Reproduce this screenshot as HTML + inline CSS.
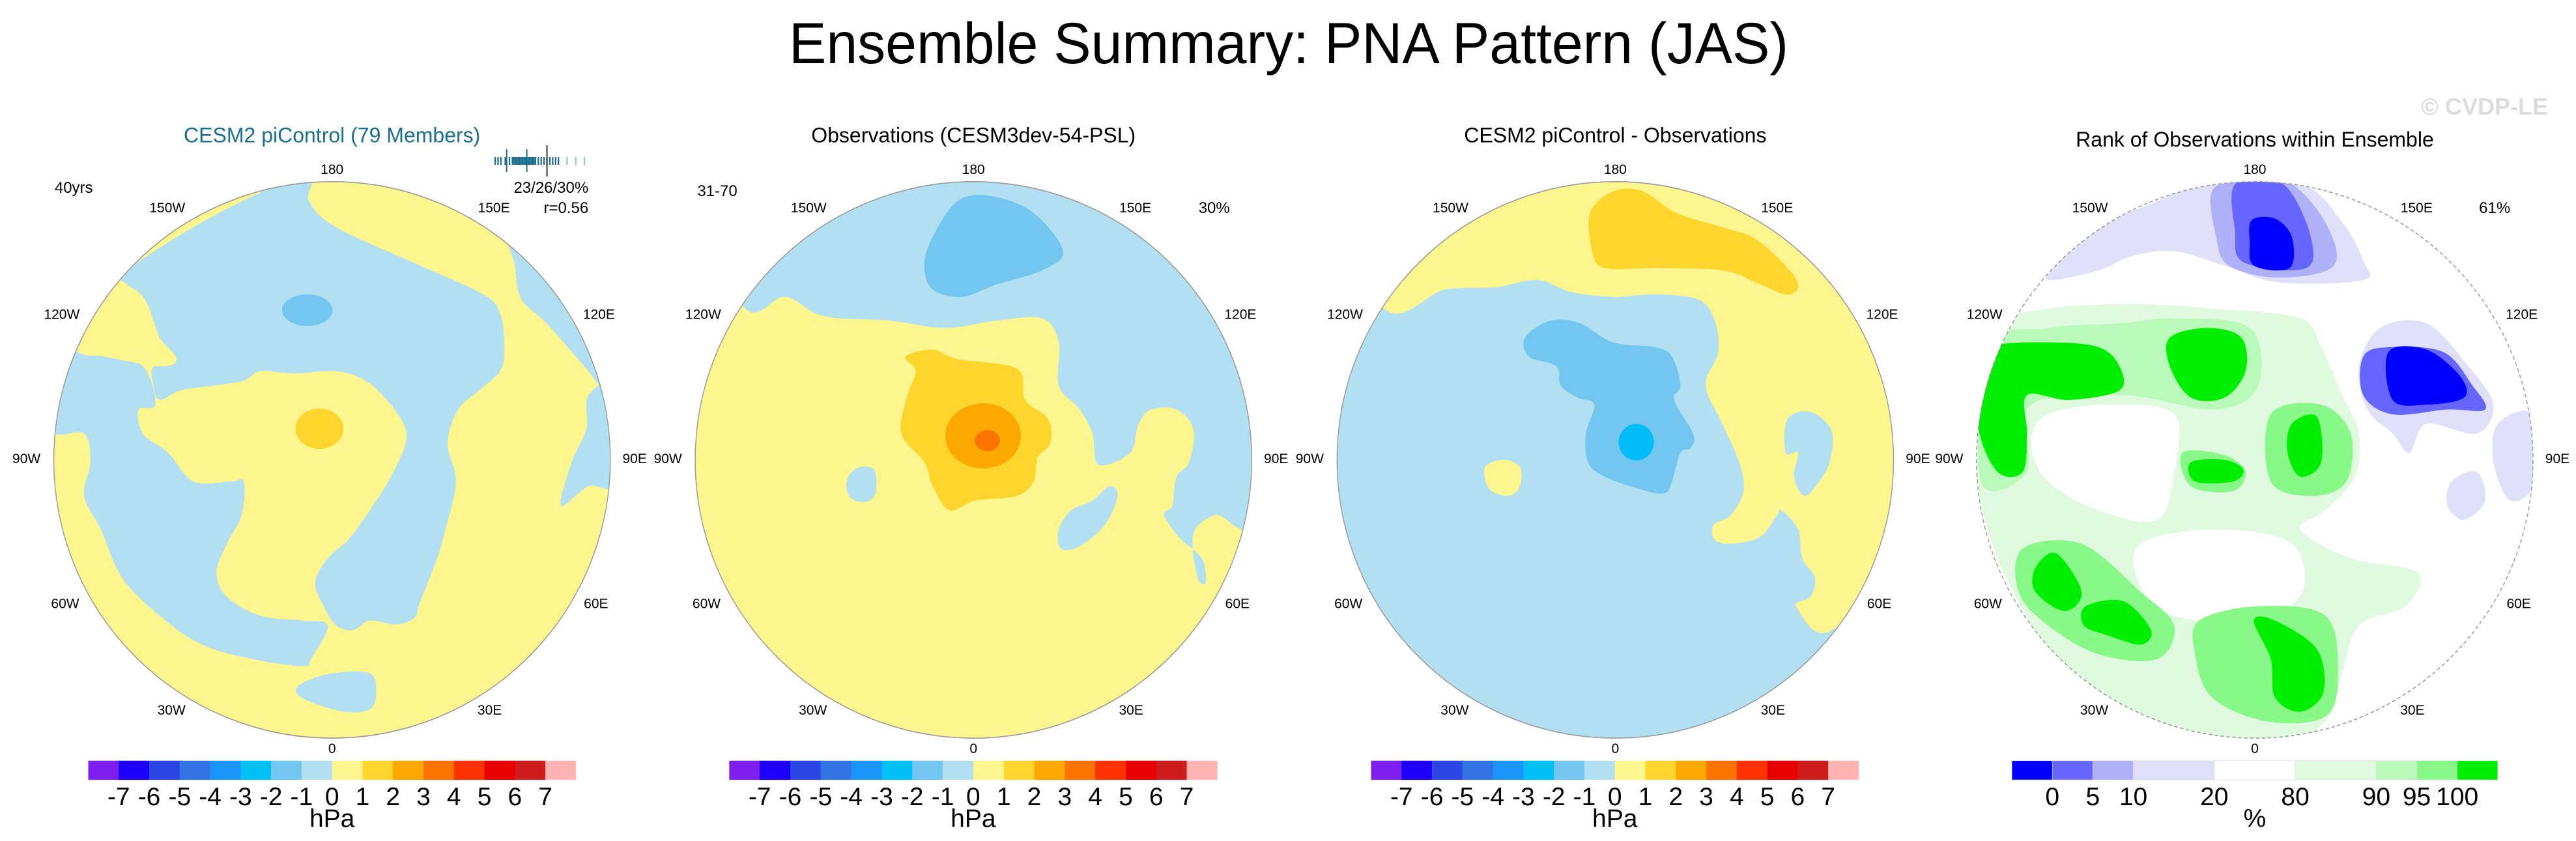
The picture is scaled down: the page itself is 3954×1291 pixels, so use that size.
<!DOCTYPE html>
<html><head><meta charset="utf-8"><title>Ensemble Summary: PNA Pattern (JAS)</title>
<style>html,body{margin:0;padding:0;background:#fff;}svg{display:block;font-family:"Liberation Sans",sans-serif;}</style>
</head><body>
<svg id="fig" xmlns="http://www.w3.org/2000/svg" width="3954" height="1291" viewBox="0 0 3954 1291">
<rect x="0" y="0" width="3954" height="1291" fill="#fff"/>
<text x="1211" y="97" font-size="89" textLength="1534" lengthAdjust="spacingAndGlyphs" fill="#000">Ensemble Summary: PNA Pattern (JAS)</text>
<text x="3911" y="176" font-size="36" font-weight="bold" text-anchor="end" fill="#dcdcdc">© CVDP-LE</text>
</svg>
<script>
// ---- colorbar data ----
var psLevels = [-7,-6,-5,-4,-3,-2,-1,0,1,2,3,4,5,6,7];
var psColors = ["#7f1fef","#1e00fa","#2c46e6","#3274e4","#1a96fa","#00c0f8","#72c6f0","#b3dff2","#fdf68f","#fed52c","#fda800","#fd7300","#fe3200","#e80000","#cf1c1c","#ffb3b3"];
var rankLevels = [0,5,10,20,80,90,95,100];
var rankColors = ["#0000ff","#6666ff","#b0b0f8","#e0e0fa","#ffffff","#e0fae0","#b9f9b9","#88f888","#00ee00"];
var rankBoxUnits = [1,1,1,2,2,2,1,1,1];
var memberR = [0.30,0.32,0.34,0.37,0.40,0.42,0.43,0.44,0.45,0.46,0.47,0.48,0.49,0.50,0.51,0.52,0.53,0.54,0.55,0.56,0.57,0.58,0.60,0.62,0.64,0.66,0.68,0.70,0.72,0.74,0.80,0.86,0.92];
var memberMarks = [0.38,0.52,0.66];

var NS="http://www.w3.org/2000/svg";
var svg=document.getElementById('fig');
var SX=0.64516, SY=0.7364;
var offs=[0,980,1960,2950];
var cxs=[790,797,805,792];
function el(tag,attrs,parent){var e=document.createElementNS(NS,tag);for(var k in attrs)e.setAttribute(k,attrs[k]);(parent||svg).appendChild(e);return e;}
function smooth(p){var n=p.length,d="M"+p[0][0]+","+p[0][1];for(var i=0;i<n;i++){var p0=p[(i-1+n)%n],p1=p[i],p2=p[(i+1)%n],p3=p[(i+2)%n];
 var c1=[p1[0]+(p2[0]-p0[0])/6,p1[1]+(p2[1]-p0[1])/6],c2=[p2[0]-(p3[0]-p1[0])/6,p2[1]-(p3[1]-p1[1])/6];
 d+=" C"+c1[0].toFixed(1)+","+c1[1].toFixed(1)+" "+c2[0].toFixed(1)+","+c2[1].toFixed(1)+" "+p2[0]+","+p2[1];}return d+"Z";}
function txt(pi,zx,zy,s,size,anchor,color,name){var t=el('text',{x:offs[pi]+zx*SX,y:150+zy*SY,'font-size':size,'text-anchor':anchor||'middle','dominant-baseline':'central',fill:color||'#000'});t.textContent=s;
 
 
 return t;}

var panelNames=['ensemble-mean-panel','observations-panel','difference-panel','rank-panel'];
var groups=[];
for(var pi=0;pi<4;pi++){
 var g=el('g',{transform:'translate('+offs[pi]+',150) scale('+SX+','+SY+')'});
 
 
 var cp=el('clipPath',{id:'clip'+pi},g);
 el('ellipse',{cx:cxs[pi],cy:755,rx:662,ry:580},cp);
 var m=el('g',{'clip-path':'url(#clip'+pi+')'},g);
 
 
 groups.push({g:g,m:m});
}
function shape(pi,pts,color,name){var p=el('path',{d:smooth(pts),fill:color},groups[pi].m);
 
 }
function bg(pi,color){var r=el('rect',{x:0,y:0,width:1600,height:1600,fill:color},groups[pi].m);
 
 }
function ell(pi,cx,cy,rx,ry,color,name){var e=el('ellipse',{cx:cx,cy:cy,rx:rx,ry:ry,fill:color},groups[pi].m);
 
 }
var Y="#fdf68f",B="#b3dff2",G="#fed52c",O="#fda800",DO="#fd7300",B2="#73c6f0",C="#00bdf8";

// Panel 1
bg(0,Y);
shape(0,[[270,380],[500,250],[730,160],[735,215],[800,270],[1000,350],[1150,410],[1190,450],[1200,520],[1190,570],[1140,610],[1090,650],[1065,720],[1085,800],[1060,900],[1040,960],[1000,1050],[985,1085],[940,1098],[880,1090],[840,1110],[800,1100],[770,1060],[750,1010],[780,960],[830,920],[880,860],[930,790],[965,720],[960,680],[920,630],[870,590],[800,570],[700,575],[620,570],[580,590],[510,600],[430,610],[380,630],[365,600],[365,560],[420,545],[380,500],[350,430],[320,400]],B,'negative-north-region');
shape(0,[[120,530],[250,540],[340,560],[370,640],[330,650],[340,700],[400,740],[460,800],[550,800],[580,800],[575,870],[540,930],[515,990],[540,1040],[620,1080],[720,1090],[780,1100],[740,1170],[720,1185],[600,1170],[480,1140],[380,1080],[290,1000],[240,900],[200,830],[215,760],[200,700],[120,690]],B,'negative-atlantic-region');
shape(0,[[1220,300],[1350,350],[1470,480],[1470,600],[1430,600],[1390,560],[1300,470],[1240,420],[1225,350]],B,'negative-northeast-edge');
shape(0,[[1400,620],[1470,600],[1470,800],[1400,810],[1335,850],[1360,760],[1395,690]],B,'negative-east-region');
shape(0,[[720,1220],[790,1200],[880,1200],[895,1240],[880,1275],[820,1280],[740,1260],[705,1240]],B,'negative-africa-region');
shape(0,[[120,470],[250,380],[320,400],[350,430],[380,500],[420,545],[380,560],[250,540],[185,530]],Y,'positive-northwest-region');
ell(0,760,690,57,42,G,'positive-center-1hpa');
ell(0,731,443,60,33,B2,'negative-north-2hpa');

// Panel 2
bg(1,Y);
shape(1,[[245,430],[350,415],[440,455],[600,465],[730,480],[850,465],[960,460],[1000,510],[1000,600],[1050,650],[1080,700],[1095,765],[1170,740],[1190,680],[1220,650],[1280,650],[1320,690],[1310,760],[1280,790],[1270,850],[1250,870],[1290,920],[1340,960],[1350,1010],[1330,1000],[1320,910],[1370,870],[1480,840],[1480,120],[120,120]],B,'negative-north-region');
shape(1,[[1000,900],[1030,860],[1080,840],[1120,810],[1140,830],[1110,890],[1050,935],[1005,940]],B,'negative-east-patch');
shape(1,[[495,800],[520,772],[560,775],[565,820],[545,842],[505,835]],B,'negative-canada-patch');
shape(1,[[700,290],[760,215],[840,205],[940,240],[1010,320],[960,360],[850,390],[770,415],[700,400],[680,350]],B2,'negative-pacific-2hpa');
shape(1,[[635,540],[700,525],[760,545],[900,565],[920,630],[975,670],[980,720],[950,750],[940,800],[900,830],[800,840],[740,860],[700,810],[680,760],[625,700],[640,620],[660,570]],G,'positive-arctic-1hpa');
ell(1,820,705,90,68,O,'positive-arctic-2hpa');
ell(1,830,715,30,22,DO,'positive-arctic-3hpa');

// Panel 3
bg(2,B);
shape(2,[[250,435],[400,400],[520,395],[620,380],[700,405],[800,415],[900,410],[1000,420],[1040,460],[1050,530],[1020,600],[1060,680],[1100,760],[1110,820],[1080,870],[1040,890],[1040,920],[1080,930],[1150,915],[1190,870],[1200,860],[1240,900],[1250,960],[1280,1000],[1270,1040],[1235,1060],[1320,1110],[1490,900],[1490,120],[120,120]],Y,'positive-north-region');
shape(2,[[1215,670],[1270,655],[1320,695],[1315,760],[1290,800],[1255,830],[1230,790],[1240,740],[1210,740]],B,'negative-east-patch');
shape(2,[[745,240],[800,195],[870,195],[950,240],[1060,270],[1140,295],[1220,360],[1240,395],[1210,410],[1140,385],[1060,360],[900,355],[780,355],[750,320]],G,'positive-pacific-1hpa');
shape(2,[[590,500],[650,465],[720,470],[800,510],[900,520],[940,540],[960,600],[945,630],[990,700],[985,730],[960,740],[940,800],[920,825],[860,815],[780,790],[740,760],[735,700],[755,640],[715,625],[675,600],[665,560],[600,540]],B2,'negative-arctic-2hpa');
ell(2,855,718,42,38,C,'negative-arctic-3hpa');
shape(2,[[495,770],[540,755],[578,770],[578,810],[550,830],[505,815]],Y,'positive-canada-patch');

// Panel 4 (rank)
bg(3,"#fff");
shape(3,[[150,480],[300,440],[500,430],[700,440],[900,460],[950,520],[1000,620],[1040,700],[1030,790],[960,860],[900,900],[1020,960],[1180,990],[1150,1060],[1040,1100],[1000,1200],[960,1300],[850,1340],[600,1320],[350,1200],[200,1000],[130,800],[130,620]],"#e0fae0",'rank-80-90-region');
shape(3,[[300,660],[450,640],[600,660],[600,780],[560,880],[420,860],[300,800],[260,720]],"#fff",'rank-white-center');
shape(3,[[520,930],[700,900],[880,930],[900,1040],[760,1090],[600,1080],[520,1020]],"#fff",'rank-white-south');
shape(3,[[160,520],[300,480],[480,470],[600,460],[780,480],[800,600],[700,650],[480,620],[260,640],[250,780],[140,800]],"#b9f9b9",'rank-90-95-west');
shape(3,[[830,660],[950,640],[1020,700],[1010,800],[930,830],[830,800]],"#88f888",'rank-95-100-east-arctic');
shape(3,[[240,940],[380,930],[520,1030],[600,1100],[560,1170],[420,1160],[300,1100],[230,1030]],"#88f888",'rank-95-100-atlantic');
shape(3,[[660,1090],[800,1060],[960,1080],[990,1200],[960,1290],[820,1300],[690,1250],[650,1160]],"#88f888",'rank-95-100-africa');
shape(3,[[620,740],[720,745],[770,780],[740,820],[640,810]],"#88f888",'rank-95-100-greenland');
shape(3,[[165,520],[300,510],[420,520],[470,560],[470,610],[350,630],[250,620],[250,700],[240,780],[180,780],[135,690],[145,580]],"#00ee00",'rank-top-west');
shape(3,[[590,500],[680,480],[760,500],[770,570],[720,625],[640,625],[590,560]],"#00ee00",'rank-top-pacific');
shape(3,[[880,680],[940,665],[950,760],[900,790],[870,740]],"#00ee00",'rank-top-siberia');
shape(3,[[640,760],[720,755],[765,775],[740,800],[650,800]],"#00ee00",'rank-top-greenland');
shape(3,[[270,980],[320,950],[380,1030],[340,1070],[270,1030]],"#00ee00",'rank-top-atlantic-1');
shape(3,[[390,1060],[480,1050],[545,1110],[520,1140],[440,1120],[385,1100]],"#00ee00",'rank-top-atlantic-2');
shape(3,[[790,1090],[840,1090],[940,1150],[955,1240],[900,1280],[840,1250],[830,1170]],"#00ee00",'rank-top-africa');
shape(3,[[330,340],[420,260],[520,230],[680,180],[900,180],[1000,260],[1050,340],[1050,380],[850,385],[720,350],[600,320],[500,330],[420,360],[300,380]],"#e0e0fa",'rank-0-20-pacific');
shape(3,[[690,195],[760,175],[870,175],[960,260],[980,350],[850,375],[730,350],[700,290]],"#b0b0f8",'rank-10-20-pacific');
shape(3,[[745,180],[850,175],[910,250],[930,340],[870,360],[760,340],[745,280]],"#6666ff",'rank-5-10-pacific');
shape(3,[[785,255],[840,252],[880,290],[875,355],[790,350],[780,300]],"#0000ff",'rank-0-5-pacific');
shape(3,[[1090,480],[1200,470],[1300,560],[1360,640],[1320,700],[1200,680],[1160,740],[1120,700],[1060,650],[1040,560]],"#e0e0fa",'rank-0-20-east-asia');
shape(3,[[1370,680],[1450,660],[1460,800],[1400,840],[1360,760]],"#e0e0fa",'rank-0-20-east');
shape(3,[[1260,800],[1320,780],[1340,840],[1290,880],[1250,850]],"#e0e0fa",'rank-0-20-east-2');
shape(3,[[1050,540],[1110,520],[1240,530],[1310,600],[1340,650],[1250,650],[1120,660],[1050,620]],"#6666ff",'rank-5-10-east-asia');
shape(3,[[1110,530],[1200,525],[1280,580],[1290,625],[1200,640],[1120,630]],"#0000ff",'rank-0-5-east-asia');

// map outlines, labels, colorbars
var latLabels=['180','150W','150E','120W','120E','90W','90E','60W','60E','30W','30E','0'];
var latDX=[0,-392,385,-643,635,-727,720,-635,628,-382,375,0];
var latDY=[-605,-525,-525,-303,-303,-2,-2,300,300,522,522,602];
var titles=['CESM2 piControl (79 Members)','Observations (CESM3dev-54-PSL)','CESM2 piControl - Observations','Rank of Observations within Ensemble'];
var titleColors=['#1a6f8e','#000','#000','#000'];
for(var pi=0;pi<4;pi++){
 var o=el('ellipse',{cx:cxs[pi],cy:755,rx:662,ry:580,fill:'none',stroke:'#999','stroke-width':2.2,'stroke-dasharray':pi==3?'8,6':'none'},groups[pi].g);
 
 
 txt(pi,cxs[pi],pi==3?87:78,titles[pi],32,'middle',titleColors[pi],'panel-title');
 for(var j=0;j<latLabels.length;j++){
  txt(pi,cxs[pi]+latDX[j],755+latDY[j],latLabels[j],21,'middle','#000','longitude-label');
 }
 var x0=[210,216,224,214][pi], x1=[1370,1377,1384,1370][pi];
 if(pi<3){
  var w=(x1-x0)/psColors.length;
  for(var k=0;k<psColors.length;k++){
   var r=el('rect',{x:x0+k*w,y:1382,width:w+0.5,height:40,fill:psColors[k]},groups[pi].g);
   
   
  }
  for(var k=0;k<psLevels.length;k++){
   txt(pi,x0+(k+1)*w,1458,String(psLevels[k]),39,'middle','#000','colorbar-tick-label');
  }
  txt(pi,(x0+x1)/2,1503,'hPa',39,'middle','#000','colorbar-unit');
 } else {
  var tot=0;for(var k=0;k<rankBoxUnits.length;k++)tot+=rankBoxUnits[k];
  var u=(x1-x0)/tot, xc=x0;
  var bounds=[];
  for(var k=0;k<rankColors.length;k++){
   var r=el('rect',{x:xc,y:1382,width:rankBoxUnits[k]*u,height:40,fill:rankColors[k],stroke:'#ddd','stroke-width':1},groups[pi].g);
   
   
   xc+=rankBoxUnits[k]*u; bounds.push(xc);
  }
  for(var k=0;k<rankLevels.length;k++){
   txt(pi,bounds[k],1458,String(rankLevels[k]),39,'middle','#000','colorbar-tick-label');
  }
  txt(pi,(x0+x1)/2,1503,'%',39,'middle','#000','colorbar-unit');
 }
}
txt(0,130,188,'40yrs',24,'start','#000','years-label');
txt(0,1400,188,'23/26/30%',24,'end','#000','percentile-label');
txt(0,1400,230,'r=0.56',24,'end','#000','correlation-label');
txt(1,140,195,'31-70',24,'start','#000','years-label');
txt(1,1407,230,'30%',24,'end','#000','explained-variance-label');
txt(3,1400,230,'61%',24,'end','#000','rank-summary-label');
function rx(v){return 760+(v-0.30)/(0.92-0.30)*137;}
for(var i=0;i<memberR.length;i++){
 var l=el('line',{x1:rx(memberR[i]),x2:rx(memberR[i]),y1:241,y2:253,stroke:memberR[i]>0.75?'#8cc3d6':'#1a6f8e','stroke-width':2.2});
 
 
}
for(var i=0;i<memberMarks.length;i++){
 var l=el('line',{x1:rx(memberMarks[i]),x2:rx(memberMarks[i]),y1:i==2?223:229,y2:i==2?271:264,stroke:i==2?'#333':'#1a6f8e','stroke-width':2});
 
 
}
</script>
</body></html>
